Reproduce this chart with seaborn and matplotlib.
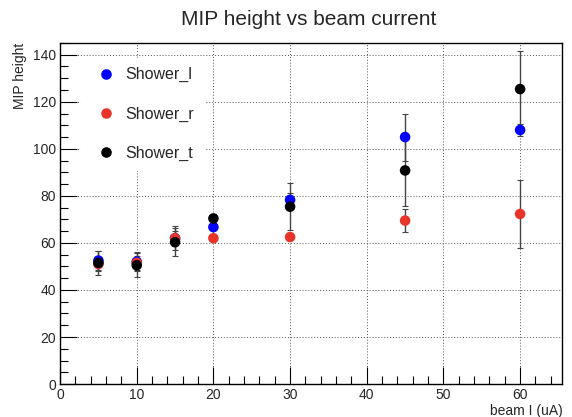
import numpy as np
import pandas as pd
import seaborn as sns
import matplotlib.pyplot as plt
from matplotlib.ticker import MultipleLocator

beam_current = [5, 10, 15, 20, 30, 45, 60]
shower_l = [52.5, 52.0, 62.0, 66.7, 78.3, 105.0, 108.0]
shower_l_err = [4.0, 4.0, 5.0, 1.0, 3.0, 10.0, 2.5]
shower_r = [51.0, 51.5, 62.0, 62.0, 62.5, 69.5, 72.3]
shower_r_err = [3.0, 3.0, 3.0, 1.0, 1.0, 5.0, 14.3]
shower_t = [51.5, 50.5, 60.3, 70.4, 75.4, 90.8, 125.4]
shower_t_err = [5.0, 5.0, 6.0, 2.0, 10.0, 15.0, 16.0]

series = {
    'Shower_l': (shower_l, shower_l_err),
    'Shower_r': (shower_r, shower_r_err),
    'Shower_t': (shower_t, shower_t_err),
}
colors = {'Shower_l': '#0000ff', 'Shower_r': '#e8352a', 'Shower_t': '#000000'}

rows = []
for name, (vals, errs) in series.items():
    for x, v, e in zip(beam_current, vals, errs):
        rows.append({'beam': x, 'mip': v, 'err': e, 'shower': name})
df = pd.DataFrame(rows)

sns.set_style('white')
plt.rcParams['font.family'] = ['Liberation Sans', 'DejaVu Sans']

fig = plt.figure(figsize=(5.72, 4.17), dpi=100)
ax = fig.add_axes([0.105, 0.079, 0.878, 0.818])

# error bars first, markers on top
for name in series:
    d = df[df['shower'] == name]
    ax.errorbar(d['beam'], d['mip'], yerr=d['err'], fmt='none',
                ecolor='#444444', elinewidth=1.0, capsize=2, capthick=0.8, zorder=2)

sns.scatterplot(data=df, x='beam', y='mip', hue='shower', palette=colors,
                s=58, edgecolor='none', ax=ax, zorder=3)

ax.set_xlim(0, 65.5)
ax.set_ylim(0, 145)
ax.xaxis.set_major_locator(MultipleLocator(10))
ax.xaxis.set_minor_locator(MultipleLocator(2))
ax.yaxis.set_major_locator(MultipleLocator(20))
ax.yaxis.set_minor_locator(MultipleLocator(5))
ax.tick_params(which='both', bottom=True, left=True, top=False, right=False,
               direction='in', color='black')
ax.tick_params(which='major', length=12, width=0.8, labelsize=10, pad=3)
ax.tick_params(which='minor', length=6, width=0.8)
ax.grid(True, which='major', linestyle=(0, (1, 2)), color='#555555', linewidth=0.7)

for side in ax.spines.values():
    side.set_color('black')
    side.set_linewidth(1.0)

ax.set_xlabel('beam I (uA)', fontsize=10, loc='right', labelpad=1)
ax.set_ylabel('MIP height', fontsize=10, loc='top', labelpad=4)
fig.suptitle('MIP height vs beam current', fontsize=15, x=0.54, y=0.975)

leg = ax.legend(loc='upper left', bbox_to_anchor=(0.025, 0.98), frameon=True,
                fontsize=11.5, labelspacing=1.5, handletextpad=0.2, borderpad=0.6,
                markerscale=1.0)
leg.get_frame().set_edgecolor('white')
leg.get_frame().set_facecolor('white')
leg.get_frame().set_alpha(1.0)
leg.set_zorder(5)

plt.savefig('out.png', dpi=100)
